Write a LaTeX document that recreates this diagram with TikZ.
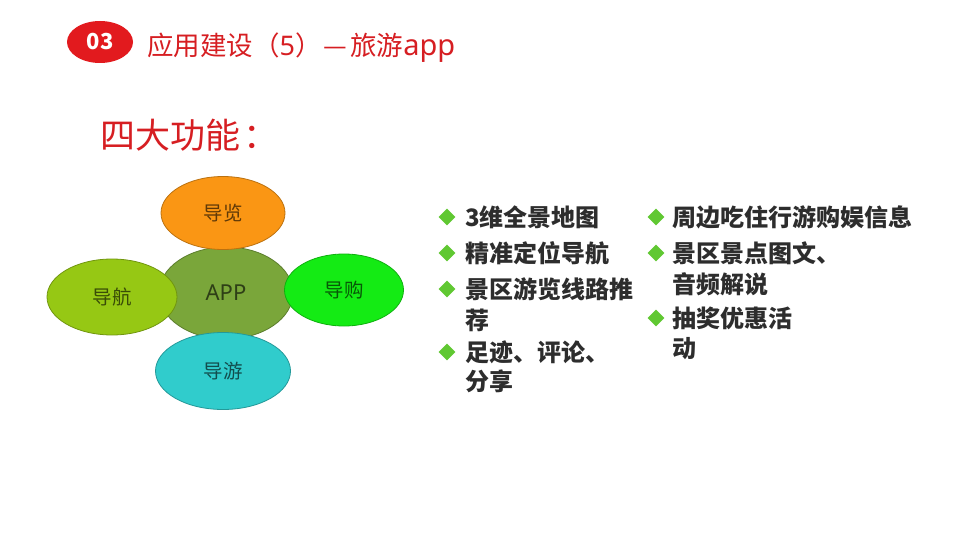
\documentclass[tikz,border=0pt]{standalone}
\usepackage{fontspec}
\setmainfont{Noto Sans CJK SC}
\newfontfamily\cjk{Noto Sans CJK SC}
\newfontfamily\lat{Noto Sans}
\usetikzlibrary{shapes.geometric}
\definecolor{myred}{RGB}{226,26,30}
\definecolor{titlered}{RGB}{214,30,34}
\definecolor{cOrange}{RGB}{250,150,20}
\definecolor{cApp}{RGB}{122,166,58}
\definecolor{cNav}{RGB}{150,200,20}
\definecolor{cShop}{RGB}{20,235,20}
\definecolor{cTour}{RGB}{48,204,204}
\definecolor{bullet}{RGB}{96,200,50}
\definecolor{btext}{RGB}{45,45,45}
\tikzset{
  x=1pt, y=-1pt,
  bubble/.style={ellipse, draw=#1!75!black, fill=#1, line width=0.8pt, inner sep=0pt,
     text=black, text opacity=0.62, font=\cjk\fontsize{19.5}{19.5}\selectfont},
  dia/.style={diamond, fill=bullet, inner sep=0pt, minimum width=17pt, minimum height=17pt},
  item/.style={anchor=west, inner sep=0pt, text=btext, font=\cjk\bfseries\fontsize{24}{24}\selectfont},
}
\begin{document}
\begin{tikzpicture}
\useasboundingbox (0,0) rectangle (960,540);
% header
\node[ellipse, fill=myred, minimum width=66pt, minimum height=42pt, inner sep=0pt,
  text=white, font=\bfseries\fontsize{22}{22}\selectfont] (num) at (100,42) {03};
\node[anchor=west, inner sep=0pt, text=titlered, font=\cjk\fontsize{26.5}{26.5}\selectfont] (title) at (147,48)
  {应用建设（{\lat\fontsize{27}{27}\selectfont 5}）{\hspace{2pt}}—{\hspace{3pt}}旅游{\lat\fontsize{29}{29}\selectfont app}};
\node[anchor=west, inner sep=0pt, text=titlered, font=\cjk\fontsize{35}{35}\selectfont] (four) at (100,135) {四大功能\hspace{3pt}：};
% bubbles
\node[bubble=cApp, minimum width=134pt, minimum height=92pt] (app) at (226,293) {\lat\fontsize{22}{22}\selectfont APP};
\node[bubble=cOrange, minimum width=124pt, minimum height=73pt] (lan) at (223,213) {导览};
\node[bubble=cNav, minimum width=130pt, minimum height=76pt] (hang) at (112,297) {导航};
\node[bubble=cShop, minimum width=119pt, minimum height=72pt] (gou) at (344,290) {导购};
\node[bubble=cTour, minimum width=135pt, minimum height=77pt] (you) at (223,371) {导游};
% left column
\node[dia] (d1) at (447,217) {};
\node[item] (t1) at (465,217) {3维全景地图};
\node[dia] (d2) at (447,253) {};
\node[item] (t2) at (465,253) {精准定位导航};
\node[dia] (d3) at (447,289) {};
\node[item] (t3) at (465,289) {景区游览线路推};
\node[item] (t3b) at (465,320) {荐};
\node[dia] (d4) at (447,352) {};
\node[item] (t4) at (465,352) {足迹、评论、};
\node[item] (t4b) at (465,381) {分享};
% right column
\node[dia] (e1) at (656,217) {};
\node[item] (u1) at (672,217) {周边吃住行游购娱信息};
\node[dia] (e2) at (656,253) {};
\node[item] (u2) at (672,253) {景区景点图文、};
\node[item] (u2b) at (672,284) {音频解说};
\node[dia] (e3) at (656,318) {};
\node[item] (u3) at (672,318) {抽奖优惠活};
\node[item] (u3b) at (672,349) {动};
\end{tikzpicture}
\end{document}
